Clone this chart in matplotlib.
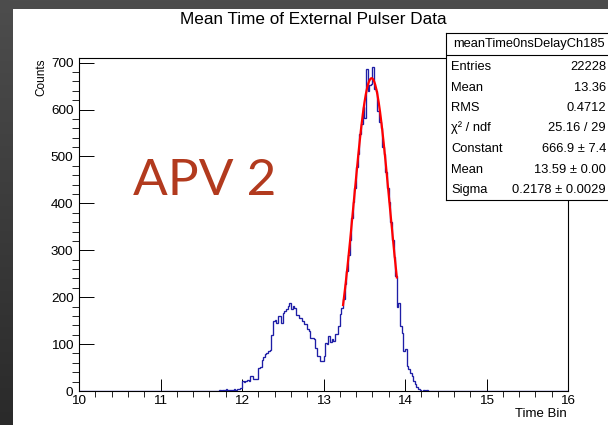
import matplotlib.pyplot as plt
import numpy as np
from matplotlib.colors import LinearSegmentedColormap
from matplotlib.ticker import MultipleLocator

plt.rcParams['font.family'] = ['Liberation Sans', 'DejaVu Sans']

# --- data ---
title = "Mean Time of External Pulser Data"
hist_name = "meanTime0nsDelayCh185"
x_lo, x_hi, n_bins = 10.0, 16.0, 300
first_bin_lo = 11.60  # low edge of the first bin listed below (bins of 0.02)
counts = [
    0, 0, 0, 1, 0, 1, 2, 1, 3, 2,                 # 11.60 - 11.78
    4, 3, 2, 3, 2, 4, 3, 5, 4, 7,                 # 11.80 - 11.98
    21, 20, 22, 23, 21, 32, 32, 25, 25, 26,       # 12.00 - 12.18
    49, 52, 67, 72, 78, 81, 85, 88, 120, 149,     # 12.20 - 12.38
    152, 146, 160, 160, 146, 167, 170, 174, 181, 187,  # 12.40 - 12.58
    174, 181, 178, 163, 163, 156, 156, 150, 142, 142,  # 12.60 - 12.78
    132, 128, 114, 114, 110, 92, 75, 75, 64, 64,  # 12.80 - 12.98
    75, 103, 100, 118, 105, 110, 107, 121, 121, 139,   # 13.00 - 13.18
    165, 178, 196, 228, 255, 290, 322, 368, 402, 432,  # 13.20 - 13.38
    478, 505, 548, 570, 605, 583, 686, 640, 652, 655,  # 13.40 - 13.58
    690, 644, 640, 598, 573, 560, 520, 505, 468, 432,  # 13.60 - 13.78
    402, 360, 322, 285, 245, 180, 188, 139, 124, 85,   # 13.80 - 13.98
    89, 53, 46, 39, 32, 21, 14, 8, 4, 3,          # 14.00 - 14.18
    1, 2, 1, 2, 1, 1, 1, 0, 1,                    # 14.20 - 14.36
]

# gaussian fit shown in the stats box
fit_const, fit_mean, fit_sigma = 666.9, 13.59, 0.2178
fit_lo, fit_hi = 13.24, 13.90

stats_labels = ["Entries", "Mean", "RMS", "\u03c7\u00b2 / ndf", "Constant", "Mean", "Sigma"]
stats_values = ["22228", "13.36", "0.4712", "25.16 / 29", "666.9 \u00b1 7.4",
                "13.59 \u00b1 0.00", "0.2178 \u00b1 0.0029"]

x_ticks = [10, 11, 12, 13, 14, 15, 16]
y_ticks = [0, 100, 200, 300, 400, 500, 600, 700]
y_max = 710

# --- figure ---
W, H = 608, 425
fig = plt.figure(figsize=(W / 100, H / 100), dpi=100)

# dark gradient around the canvas
bg = fig.add_axes([0, 0, 1, 1])
grad = np.linspace(0, 1, 256).reshape(-1, 1)
bg.imshow(grad, aspect='auto', extent=(0, 1, 0, 1),
          cmap=LinearSegmentedColormap.from_list('bg', ['#4d4d4d', '#2a2a2a']))
bg.axis('off')

canvas = fig.add_axes([13 / W, 0, 1 - 13 / W, (H - 9) / H])
canvas.axis('off')
canvas.add_patch(plt.Rectangle((0, 0), 1, 1, color='white', transform=canvas.transAxes))

ax = fig.add_axes([79 / W, 1 - 391 / H, (568 - 79) / W, (391 - 58) / H])
ax.set_facecolor('white')

edges = np.linspace(x_lo, x_hi, n_bins + 1)
full = np.zeros(n_bins)
i0 = int(round((first_bin_lo - x_lo) / 0.02))
full[i0:i0 + len(counts)] = counts
ax.stairs(full, edges, baseline=0, color='#1e1ea6', linewidth=0.95, zorder=3)

fx = np.linspace(fit_lo, fit_hi, 200)
fy = fit_const * np.exp(-0.5 * ((fx - fit_mean) / fit_sigma) ** 2)
ax.plot(fx, fy, color='#ff0000', linewidth=1.6, zorder=4)

ax.set_xlim(x_lo, x_hi)
ax.set_ylim(0, y_max)
ax.set_xticks(x_ticks)
ax.set_xticklabels([str(v) for v in x_ticks])
ax.set_yticks(y_ticks)
ax.set_yticklabels([str(v) for v in y_ticks])
ax.xaxis.set_minor_locator(MultipleLocator(0.2))
ax.yaxis.set_minor_locator(MultipleLocator(20))
ax.tick_params(direction='in', top=False, right=False, labelsize=9.7, width=0.7, color='black')
ax.tick_params(axis='x', which='major', length=8.6, pad=3)
ax.tick_params(axis='x', which='minor', length=4.3)
ax.tick_params(axis='y', which='major', length=10.8, pad=4)
ax.tick_params(axis='y', which='minor', length=5.4)
for s in ax.spines.values():
    s.set_linewidth(0.8)
    s.set_color('black')

fig.text(313 / W, 1 - 20 / H, title, ha='center', va='center', fontsize=12.3)
fig.text(41 / W, 1 - 58 / H, "Counts", rotation=90, ha='center', va='top', fontsize=8.5)
fig.text(567 / W, 1 - 414 / H, "Time Bin", ha='right', va='center', fontsize=9.5)
fig.text(133 / W, 1 - 195 / H, "APV 2", ha='left', va='baseline', fontsize=37,
         color='#b23a1e', family=['Lato', 'DejaVu Sans'], fontweight='normal')

# stats box
bx0, by0, bx1, by1 = 446, 33, 616, 200
sb = fig.add_axes([bx0 / W, 1 - by1 / H, (bx1 - bx0) / W, (by1 - by0) / H])
sb.set_xlim(bx0, bx1)
sb.set_ylim(by1, by0)
sb.set_xticks([])
sb.set_yticks([])
sb.set_facecolor('white')
for s in sb.spines.values():
    s.set_linewidth(0.8)
sb.axhline(55, color='black', linewidth=0.8)
sb.text(529, 44.5, hist_name, ha='center', va='center', fontsize=9.3)
row_y = [67, 88, 108, 128, 149, 170, 190]
for yy, lab, val in zip(row_y, stats_labels, stats_values):
    sb.text(451, yy, lab, ha='left', va='center', fontsize=9.3)
    sb.text(606, yy, val, ha='right', va='center', fontsize=9.3)

fig.savefig('out.png', dpi=100)
plt.close(fig)
